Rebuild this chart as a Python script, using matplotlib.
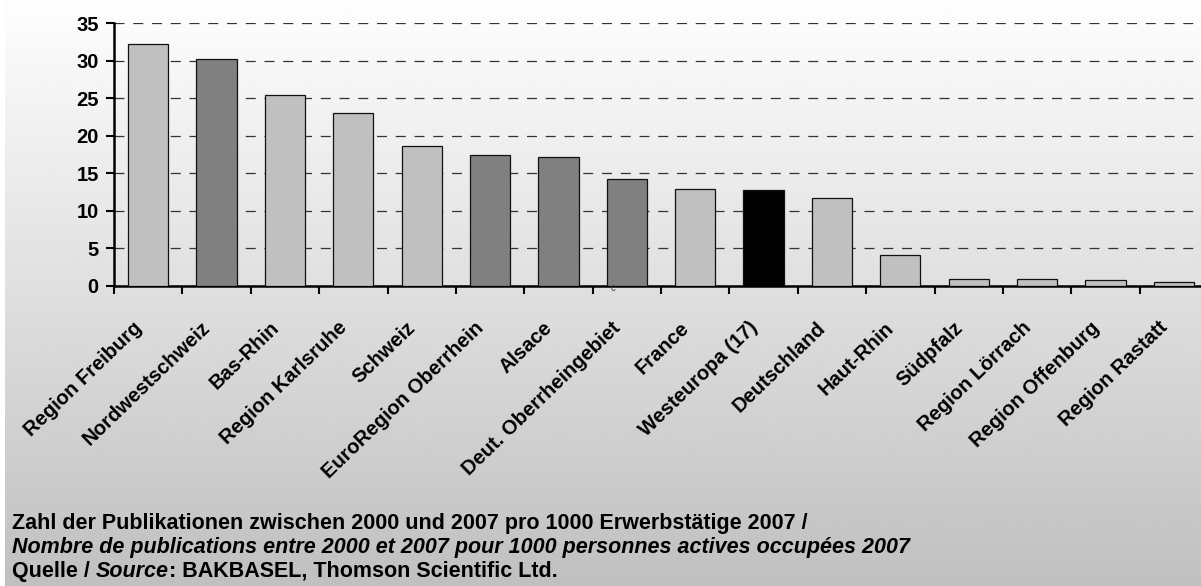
import numpy as np
import matplotlib.pyplot as plt
import matplotlib.transforms as mtransforms

plt.rcParams['font.family'] = ['Liberation Sans', 'DejaVu Sans']

# Publications per 1000 employed persons
regions = ['Region Freiburg', 'Nordwestschweiz', 'Bas-Rhin', 'Region Karlsruhe',
           'Schweiz', 'EuroRegion Oberrhein', 'Alsace', 'Deut. Oberrheingebiet',
           'France', 'Westeuropa (17)', 'Deutschland', 'Haut-Rhin', 'Südpfalz',
           'Region Lörrach', 'Region Offenburg', 'Region Rastatt']
values = [32.2, 30.2, 25.4, 23.0, 18.7, 17.4, 17.2, 14.2,
          12.9, 12.8, 11.7, 4.1, 0.9, 0.9, 0.75, 0.5]
groups = ['sub', 'area', 'sub', 'sub', 'sub', 'area', 'area', 'area',
          'sub', 'ref', 'sub', 'sub', 'sub', 'sub', 'sub', 'sub']
group_colors = {'sub': '#c0c0c0', 'area': '#808080', 'ref': '#000000'}
yticks = [0, 5, 10, 15, 20, 25, 30, 35]

W, H = 1201, 586
fig = plt.figure(figsize=(W / 100, H / 100), dpi=100)

# grey vertical gradient behind everything
bg = fig.add_axes([5 / W, 0, 1 - 5 / W, 1], zorder=-10)
grad = np.linspace(254, 192, 300).reshape(-1, 1) / 255.0
bg.imshow(np.repeat(grad, 2, axis=1), cmap='gray', vmin=0, vmax=1,
          aspect='auto', extent=[0, 1, 0, 1], interpolation='bicubic')
bg.axis('off')

left, right = 114, 1208
top, bottom = 23.5, 286
ax = fig.add_axes([left / W, 1 - bottom / H, (right - left) / W, (bottom - top) / H])
ax.patch.set_alpha(0)

x = np.arange(len(regions))
colors = [group_colors[g] for g in groups]
ax.bar(x, values, width=0.59, color=colors, edgecolor='#111111', linewidth=0.9, zorder=3)

ax.set_xlim(-0.5, len(regions) - 0.5)
ax.set_ylim(0, 35)
ax.set_yticks(yticks)
ax.yaxis.grid(True, color='#333333', linestyle=(0, (8, 7)), linewidth=0.9, zorder=0)
ax.set_axisbelow(True)

for s in ['top', 'right']:
    ax.spines[s].set_visible(False)
for s in ['left', 'bottom']:
    ax.spines[s].set_linewidth(1.8)

fs = 14.5
ax.tick_params(axis='y', direction='out', length=6, width=1.5, pad=5,
               labelsize=fs)
for lab in ax.get_yticklabels():
    lab.set_fontweight('bold')

# tick marks between categories, labels at category centres
ax.set_xticks(np.arange(len(regions) + 1) - 0.5)
ax.set_xticklabels([])
ax.tick_params(axis='x', which='major', direction='out', length=6, width=1.5)
ax.set_xticks(x, minor=True)
ax.set_xticklabels(regions, minor=True, rotation=44, ha='right', va='center',
                   rotation_mode='anchor', fontsize=fs, fontweight='bold')
ax.tick_params(axis='x', which='minor', length=0, pad=28)
shift = mtransforms.ScaledTranslation(-9 / 100, 0, fig.dpi_scale_trans)
for lab in ax.get_xticklabels(minor=True):
    lab.set_transform(lab.get_transform() + shift)

ax.text(6.8, -0.3, 'c', fontsize=7, color='#444444', ha='center', va='center')

# caption lines
cfs = 15.5
fig.text(12 / W, 1 - 529 / H, 'Zahl der Publikationen zwischen 2000 und 2007 pro 1000 Erwerbstätige 2007 /',
         fontsize=cfs, fontweight='bold', va='baseline')
fig.text(12 / W, 1 - 553 / H, 'Nombre de publications entre 2000 et 2007 pour 1000 personnes actives occupées 2007',
         fontsize=cfs, fontweight='bold', style='italic', va='baseline')
t1 = fig.text(12 / W, 1 - 577 / H, 'Quelle / ', fontsize=cfs, fontweight='bold', va='baseline')
fig.canvas.draw()
ext = t1.get_window_extent()
t2 = fig.text(ext.x1 / W, 1 - 577 / H, 'Source', fontsize=cfs, fontweight='bold',
              style='italic', va='baseline')
ext2 = t2.get_window_extent()
fig.text(ext2.x1 / W, 1 - 577 / H, ': BAKBASEL, Thomson Scientific Ltd.', fontsize=cfs,
         fontweight='bold', va='baseline')

fig.savefig('out.png', dpi=100)
